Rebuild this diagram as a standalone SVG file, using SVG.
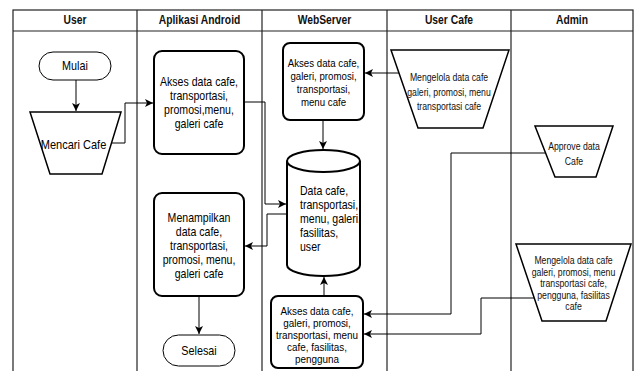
<svg xmlns="http://www.w3.org/2000/svg" width="638" height="371" viewBox="0 0 638 371">
<style>
.lane{fill:none;stroke:#222;stroke-width:1.2}
.hd{font-family:"Liberation Sans",Arial,sans-serif;font-size:12px;font-weight:bold;fill:#111;text-anchor:middle}
.box{fill:#fff;stroke:#000;stroke-width:2}
.trap{fill:#fff;stroke:#000;stroke-width:1.5}
.term{fill:#fff;stroke:#000;stroke-width:1}
.t12{font-family:"Liberation Sans",Arial,sans-serif;font-size:12px;fill:#000;text-anchor:middle}
.t11{font-family:"Liberation Sans",Arial,sans-serif;font-size:11px;fill:#000;text-anchor:middle}
.t10{font-family:"Liberation Sans",Arial,sans-serif;font-size:10px;fill:#111;text-anchor:middle}
.conn{fill:none;stroke:#000;stroke-width:1;marker-end:url(#arr)}
</style>
<defs>
<marker id="arr" markerWidth="9" markerHeight="8" refX="8" refY="4" orient="auto" markerUnits="userSpaceOnUse">
<path d="M0,0 L8,4 L0,8 L2,4 Z" fill="#000"/>
</marker>
</defs>
<rect width="638" height="371" fill="#fff"/>
<g id="lanes">
<rect class="lane" x="13" y="10" width="620" height="380"/>
<line class="lane" x1="13" y1="31" x2="633" y2="31"/>
<line class="lane" x1="137" y1="10" x2="137" y2="371"/>
<line class="lane" x1="262" y1="10" x2="262" y2="371"/>
<line class="lane" x1="387" y1="10" x2="387" y2="371"/>
<line class="lane" x1="511" y1="10" x2="511" y2="371"/>
<g transform="translate(75 0) scale(0.86 1)"><text class="hd" x="0" y="24.5">User</text></g>
<g transform="translate(199.5 0) scale(0.86 1)"><text class="hd" x="0" y="24.5">Aplikasi Android</text></g>
<g transform="translate(324.5 0) scale(0.86 1)"><text class="hd" x="0" y="24.5">WebServer</text></g>
<g transform="translate(449 0) scale(0.86 1)"><text class="hd" x="0" y="24.5">User Cafe</text></g>
<g transform="translate(572 0) scale(0.86 1)"><text class="hd" x="0" y="24.5">Admin</text></g>
</g>
<g id="connectors">
<path class="conn" d="M76,80 V111"/>
<path class="conn" d="M108,143 H125 V103 H153"/>
<path class="conn" d="M244,102 H265 V204 H286"/>
<path class="conn" d="M287,214 H267 V246 H245"/>
<path class="conn" d="M323,120 V149"/>
<path class="conn" d="M400,73 H365"/>
<path class="conn" d="M324,296 V277"/>
<path class="conn" d="M545,153 H451 V314 H364"/>
<path class="conn" d="M534,298 H481 V334 H364"/>
<path class="conn" d="M199,296 V334"/>
</g>
<g id="mulai">
<rect class="term" x="39" y="52" width="72" height="28" rx="14"/>
<g transform="translate(75 0) scale(0.9 1)"><text class="t12" x="0" y="70.5">Mulai</text></g>
</g>
<g id="mencari">
<polygon class="trap" points="30,112 121,112 102,174 50,174"/>
<g transform="translate(73.5 0) scale(0.92 1)"><text class="t12" x="0" y="149">Mencari Cafe</text></g>
</g>
<g id="android-akses">
<rect class="box" x="154" y="51" width="90" height="103" rx="8"/>
<g transform="translate(199 0) scale(0.88 1)">
<text class="t12" x="0" y="86">Akses data cafe,</text>
<text class="t12" x="0" y="100">transportasi,</text>
<text class="t12" x="0" y="114">promosi,menu,</text>
<text class="t12" x="0" y="128">galeri cafe</text>
</g>
</g>
<g id="menampilkan">
<rect class="box" x="154" y="193" width="90" height="103" rx="8"/>
<g transform="translate(199 0) scale(0.88 1)">
<text class="t12" x="0" y="222">Menampilkan</text>
<text class="t12" x="0" y="236">data cafe,</text>
<text class="t12" x="0" y="250">transportasi,</text>
<text class="t12" x="0" y="264">promosi, menu,</text>
<text class="t12" x="0" y="278">galeri cafe</text>
</g>
</g>
<g id="selesai">
<rect class="term" x="163" y="335" width="72" height="31" rx="15.5"/>
<g transform="translate(199 0) scale(0.9 1)"><text class="t12" x="0" y="355">Selesai</text></g>
</g>
<g id="ws-akses-top">
<rect class="box" x="283" y="43" width="81" height="77" rx="7"/>
<g transform="translate(323.5 0) scale(0.88 1)">
<text class="t11" x="0" y="67">Akses data cafe,</text>
<text class="t11" x="0" y="80">galeri, promosi,</text>
<text class="t11" x="0" y="93">transportasi,</text>
<text class="t11" x="0" y="106">menu cafe</text>
</g>
</g>
<g id="database">
<path class="box" d="M287,161 A36.5,11 0 0 1 360,161 V265 A36.5,11 0 0 1 287,265 Z"/>
<path class="box" d="M287,161 A36.5,11 0 0 0 360,161"/>
<g transform="translate(300 0) scale(0.88 1)">
<text class="t12" x="0" y="195" style="text-anchor:start">Data cafe,</text>
<text class="t12" x="0" y="209" style="text-anchor:start">transportasi,</text>
<text class="t12" x="0" y="223" style="text-anchor:start">menu, galeri,</text>
<text class="t12" x="0" y="237" style="text-anchor:start">fasilitas,</text>
<text class="t12" x="0" y="251" style="text-anchor:start">user</text>
</g>
</g>
<g id="ws-akses-bottom">
<rect class="box" x="271" y="296" width="92" height="72" rx="7"/>
<g transform="translate(317 0) scale(0.9 1)">
<text class="t11" x="0" y="315">Akses data cafe,</text>
<text class="t11" x="0" y="327">galeri, promosi,</text>
<text class="t11" x="0" y="339">transportasi, menu</text>
<text class="t11" x="0" y="351">cafe, fasilitas,</text>
<text class="t11" x="0" y="363">pengguna</text>
</g>
</g>
<g id="usercafe-kelola">
<polygon class="trap" points="391,50 509,50 483,128 418,128"/>
<g transform="translate(449 0) scale(0.87 1)">
<text class="t10" x="0" y="81.5">Mengelola data cafe</text>
<text class="t10" x="0" y="96">galeri, promosi, menu</text>
<text class="t10" x="0" y="110.5">transportasi cafe</text>
</g>
</g>
<g id="approve">
<polygon class="trap" points="535,126 613,126 596,177 555,177"/>
<g transform="translate(574 0) scale(0.87 1)">
<text class="t10" x="0" y="150.5">Approve data</text>
<text class="t10" x="0" y="165.5">Cafe</text>
</g>
</g>
<g id="admin-kelola">
<polygon class="trap" points="516,244 631,244 606,321 542,321"/>
<g transform="translate(573.5 0) scale(0.87 1)">
<text class="t10" x="0" y="264.5">Mengelola data cafe</text>
<text class="t10" x="0" y="276">galeri, promosi, menu</text>
<text class="t10" x="0" y="287.5">transportasi cafe,</text>
<text class="t10" x="0" y="299">pengguna, fasilitas</text>
<text class="t10" x="0" y="310.5">cafe</text>
</g>
</g>
</svg>
